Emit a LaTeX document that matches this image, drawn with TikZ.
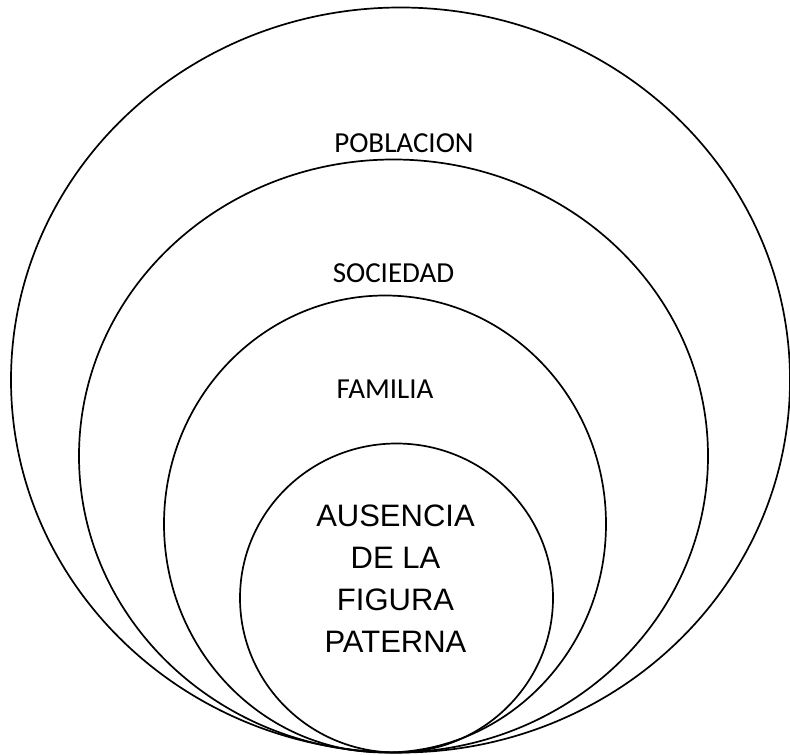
\documentclass[tikz,border=0pt]{standalone}
\usepackage{fontspec}
\setmainfont{Carlito}
\newfontfamily\arialfont{Liberation Sans}
\usetikzlibrary{shapes.geometric}
\begin{document}
\begin{tikzpicture}[x=1bp,y=-1bp,
  ring/.style={draw=black, line width=1.7bp, ellipse, inner sep=0pt, outer sep=0pt},
  lbl/.style={font=\fontsize{29bp}{34bp}\selectfont, anchor=base, inner sep=0pt},
  core/.style={font=\arialfont\fontsize{31bp}{42bp}\selectfont, align=center, inner sep=0pt}]
\useasboundingbox (0,0) rectangle (790,755);
\node[ring, minimum width=779bp, minimum height=745bp] (pob) at (400.5,380) {};
\node[ring, minimum width=629bp, minimum height=593bp] (soc) at (393.5,456) {};
\node[ring, minimum width=442bp, minimum height=457bp] (fam) at (385,524) {};
\node[ring, minimum width=313bp, minimum height=309bp] (aus) at (396.5,598) {};
\node[lbl] (tpob) at (404,152) {POBLACION};
\node[lbl] (tsoc) at (393.5,282) {SOCIEDAD};
\node[lbl] (tfam) at (385,398) {FAMILIA};
\node[core] (taus) at (395.5,579) {AUSENCIA\\DE LA\\FIGURA\\PATERNA};
\end{tikzpicture}
\end{document}
